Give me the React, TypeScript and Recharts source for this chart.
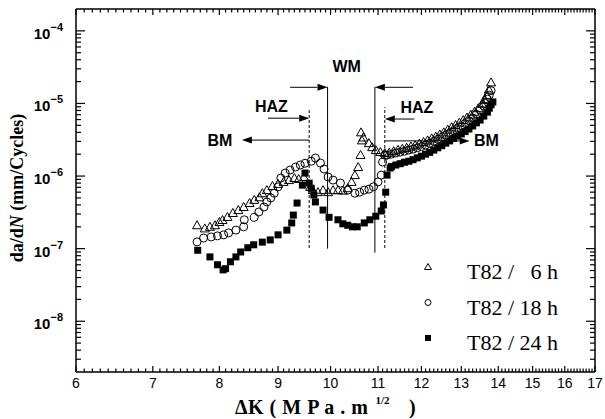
import React from 'react';
import { ScatterChart, Scatter, XAxis, YAxis, ReferenceLine, ReferenceDot } from 'recharts';

// ΔK (MPa·m^1/2) vs da/dN (mm/cycle)
const t82_6h: [number, number][] = [
  [7.65, 2.1e-7], [7.77, 1.9e-7], [7.85, 2.0e-7], [7.93, 2.1e-7], [8.0, 2.33e-7], [8.05, 2.48e-7],
  [8.13, 2.73e-7], [8.22, 3.1e-7], [8.31, 3.4e-7], [8.4, 3.75e-7], [8.5, 4.25e-7], [8.58, 4.7e-7],
  [8.67, 5.1e-7], [8.72, 5.8e-7], [8.8, 6.4e-7], [8.9, 7.3e-7], [9.0, 7.8e-7], [9.1, 8.3e-7],
  [9.2, 8.8e-7], [9.3, 9.4e-7], [9.38, 9.1e-7], [9.48, 9.7e-7], [9.6, 7.1e-7], [9.65, 6.4e-7],
  [9.75, 6.0e-7], [9.85, 6.4e-7], [9.95, 6.0e-7], [10.05, 6.4e-7], [10.15, 6.4e-7], [10.25, 6.3e-7],
  [10.35, 6.8e-7], [10.43, 8.3e-7], [10.5, 1.03e-6], [10.57, 1.33e-6], [10.62, 1.95e-6], [10.65, 3.1e-6],
  [10.63, 4.0e-6], [10.68, 3.4e-6], [10.8, 2.84e-6], [10.87, 2.5e-6], [10.95, 2.28e-6], [11.05, 2.14e-6],
  [11.15, 2.07e-6], [11.25, 2.1e-6], [11.35, 2.2e-6], [11.45, 2.3e-6], [11.55, 2.38e-6], [11.65, 2.45e-6],
  [11.75, 2.55e-6], [11.85, 2.65e-6], [11.95, 2.8e-6], [12.05, 2.95e-6], [12.15, 3.1e-6], [12.25, 3.3e-6],
  [12.35, 3.5e-6], [12.45, 3.75e-6], [12.55, 4.0e-6], [12.65, 4.35e-6], [12.75, 4.7e-6], [12.85, 5.05e-6],
  [12.95, 5.45e-6], [13.05, 5.9e-6], [13.15, 6.4e-6], [13.25, 7.0e-6], [13.35, 7.7e-6], [13.45, 8.6e-6],
  [13.55, 9.9e-6], [13.62, 1.12e-5], [13.68, 1.3e-5], [13.74, 1.55e-5], [13.8, 1.95e-5],
];

const t82_18h: [number, number][] = [
  [7.65, 1.24e-7], [7.75, 1.4e-7], [7.87, 1.45e-7], [7.97, 1.5e-7], [8.07, 1.55e-7], [8.15, 1.65e-7],
  [8.27, 1.8e-7], [8.4, 2.0e-7], [8.41, 2.5e-7], [8.58, 2.7e-7], [8.66, 3.2e-7], [8.75, 3.75e-7],
  [8.8, 4.4e-7], [8.87, 5.0e-7], [8.93, 5.8e-7], [9.0, 7.1e-7], [9.05, 9.4e-7], [9.13, 1.1e-6],
  [9.22, 1.21e-6], [9.32, 1.33e-6], [9.41, 1.42e-6], [9.5, 1.5e-6], [9.62, 1.6e-6], [9.7, 1.77e-6],
  [9.8, 1.51e-6], [9.87, 1.25e-6], [9.95, 9.7e-7], [10.05, 8.8e-7], [10.2, 8.0e-7], [10.35, 6.4e-7],
  [10.5, 5.8e-7], [10.6, 6.0e-7], [10.7, 6.4e-7], [10.8, 6.6e-7], [10.9, 7.1e-7], [11.0, 8.3e-7],
  [11.07, 1.03e-6], [11.1, 1.56e-6], [11.15, 1.94e-6], [11.2, 1.94e-6], [11.3, 2.0e-6], [11.4, 2.08e-6],
  [11.5, 2.14e-6], [11.6, 2.2e-6], [11.7, 2.28e-6], [11.8, 2.35e-6], [11.9, 2.45e-6], [12.0, 2.55e-6],
  [12.1, 2.67e-6], [12.2, 2.82e-6], [12.3, 3.0e-6], [12.4, 3.2e-6], [12.5, 3.42e-6], [12.6, 3.65e-6],
  [12.7, 3.9e-6], [12.8, 4.2e-6], [12.9, 4.55e-6], [13.0, 4.9e-6], [13.1, 5.3e-6], [13.2, 5.8e-6],
  [13.3, 6.3e-6], [13.4, 7.1e-6], [13.5, 8.1e-6], [13.6, 9.2e-6], [13.65, 1.0e-5], [13.7, 1.15e-5],
  [13.75, 1.3e-5], [13.8, 1.5e-5],
];

const t82_24h: [number, number][] = [
  [7.66, 9.5e-8], [7.85, 7.7e-8], [7.97, 6.0e-8], [8.06, 5.1e-8], [8.1, 5.3e-8], [8.18, 6.6e-8],
  [8.27, 7.7e-8], [8.35, 9.0e-8], [8.47, 1.03e-7], [8.57, 1.13e-7], [8.72, 1.23e-7], [8.86, 1.32e-7],
  [9.0, 1.55e-7], [9.16, 1.8e-7], [9.25, 2.26e-7], [9.28, 2.9e-7], [9.35, 4.25e-7], [9.5, 1.1e-6],
  [9.45, 7.5e-7], [9.58, 8.0e-7], [9.62, 6.8e-7], [9.67, 5.5e-7], [9.7, 4.4e-7], [9.85, 3.4e-7],
  [9.97, 2.7e-7], [10.15, 2.5e-7], [10.25, 2.2e-7], [10.35, 2.1e-7], [10.45, 2.0e-7], [10.55, 2.0e-7],
  [10.7, 2.26e-7], [10.82, 2.5e-7], [10.95, 2.8e-7], [11.07, 3.3e-7], [11.12, 4.0e-7], [11.17, 6.0e-7],
  [11.2, 1.03e-6], [11.27, 1.29e-6], [11.3, 1.35e-6], [11.4, 1.42e-6], [11.5, 1.48e-6], [11.6, 1.55e-6],
  [11.7, 1.6e-6], [11.8, 1.68e-6], [11.9, 1.78e-6], [12.0, 1.88e-6], [12.1, 2.0e-6], [12.2, 2.12e-6],
  [12.3, 2.28e-6], [12.4, 2.45e-6], [12.5, 2.62e-6], [12.6, 2.84e-6], [12.7, 3.05e-6], [12.8, 3.3e-6],
  [12.9, 3.55e-6], [13.0, 3.8e-6], [13.1, 4.1e-6], [13.2, 4.45e-6], [13.3, 4.9e-6], [13.4, 5.4e-6],
  [13.5, 5.9e-6], [13.6, 6.7e-6], [13.7, 7.6e-6], [13.75, 8.6e-6], [13.8, 9.6e-6], [13.85, 1.05e-5],
];

const xMajor = [6, 7, 8, 9, 10, 11, 12, 13, 14, 15, 16, 17];
const yMajor = [1e-8, 1e-7, 1e-6, 1e-5, 1e-4];
const xDomain = [6, 17];
const yDomain = [2e-9, 2e-4];
const legendLabels = ['T82 /   6 h', 'T82 / 18 h', 'T82 / 24 h'];

// zone boundaries: ΔK, lower and upper rate of the drawn line
const zoneLines = [
  { k: 9.58, lo: 1.02e-7, hi: 8.1e-6, dashed: true },
  { k: 9.94, lo: 1.0e-7, hi: 1.7e-5, dashed: false },
  { k: 10.93, lo: 8.8e-8, hi: 1.7e-5, dashed: false },
  { k: 11.15, lo: 1.02e-7, hi: 8.9e-6, dashed: true },
];
// arrows: from tail ΔK to head ΔK at a rate level
const zoneArrows = [
  { from: 9.22, to: 9.94, at: 1.67e-5 },
  { from: 11.8, to: 10.93, at: 1.67e-5 },
  { from: 8.82, to: 9.58, at: 6.27e-6 },
  { from: 9.58, to: 8.37, at: 3.13e-6 },
  { from: 11.83, to: 11.15, at: 6.1e-6 },
  { from: 11.15, to: 13.22, at: 3.05e-6 },
];
const zoneLabels = [
  { text: 'WM', k: 10.33, at: 3.2e-5 },
  { text: 'HAZ', k: 8.88, at: 9.2e-6 },
  { text: 'BM', k: 8.01, at: 3.13e-6 },
  { text: 'HAZ', k: 11.89, at: 8.9e-6 },
  { text: 'BM', k: 13.67, at: 3.13e-6 },
];

const toPoints = (rows: [number, number][]) => rows.map(([dk, rate]) => ({ dk, rate }));

const xMinor: number[] = [];
xMajor.slice(0, -1).forEach((m) => {
  for (let i = 1; i < 10; i++) xMinor.push(Math.round((m + i / 10) * 10) / 10);
});

const yMinor: number[] = [];
[1e-9, ...yMajor].forEach((d) => {
  for (let k = 2; k < 10; k++) {
    const v = d * k;
    if (v > 2.01e-9 && v < 1.99e-4) yMinor.push(v);
  }
});

const W = 605;
const H = 419;
const margin = { top: 8, right: 9, bottom: 46, left: 75 };
// plot box (the 1px axis bands sit between margin and plot)
const box = { left: margin.left + 1, right: W - margin.right - 1, top: margin.top + 1, bottom: H - margin.bottom - 1 };
const logPos = (v: number, d: number[], a: number, b: number) =>
  a + ((Math.log10(v) - Math.log10(d[0])) / (Math.log10(d[1]) - Math.log10(d[0]))) * (b - a);

const arial = 'Arial, "Liberation Sans", Helvetica, sans-serif';
const times = '"Times New Roman", "Liberation Serif", serif';

const LeftLabel = ({ x, y, payload }: any) => {
  const exp = Math.round(Math.log10(payload.value));
  return (
    <text x={x - 13} y={y + 8} textAnchor="end" fontFamily={arial} fontWeight="bold" fontSize={15} fill="#000">
      10
      <tspan dy={-8} fontSize={11}>{'\u2212' + Math.abs(exp)}</tspan>
    </text>
  );
};

const BottomLabel = ({ x, y, payload }: any) => (
  <text x={x} y={y + 16} textAnchor="middle" fontFamily={arial} fontSize={14} fill="#000">
    {payload.value}
  </text>
);

const Triangle = ({ cx, cy }: any) => (
  <polygon
    points={`${cx},${cy - 4.5} ${cx - 4.5},${cy + 3.5} ${cx + 4.5},${cy + 3.5}`}
    fill="none"
    stroke="#000"
    strokeWidth={1}
  />
);
const Ring = ({ cx, cy }: any) => <circle cx={cx} cy={cy} r={4} fill="none" stroke="#000" strokeWidth={1} />;
const Block = ({ cx, cy }: any) => <rect x={cx - 3.5} y={cy - 3.5} width={7} height={7} fill="#000" />;

const ArrowLine = (p: any) => {
  const { x1, y1, x2, y2 } = p;
  const dir = Math.sign(x2 - x1) || 1;
  const hl = 10;
  const hw = 3.5;
  return (
    <g>
      <line x1={x1} y1={y1} x2={x2 - dir * hl} y2={y2} stroke="#000" strokeWidth={1} />
      <polygon points={`${x2},${y2} ${x2 - dir * hl},${y2 - hw} ${x2 - dir * hl},${y2 + hw}`} fill="#000" />
    </g>
  );
};

// inward tick marks on all four sides of the frame
const FrameTicks = () => {
  const ys = [...yMajor.map((v) => [v, 9]), ...yMinor.map((v) => [v, 5])];
  const xs = [...xMajor.map((v) => [v, 6]), ...xMinor.map((v) => [v, 3.5])];
  return (
    <g stroke="#000" strokeWidth={1.2}>
      {ys.map(([v, len]) => {
        const y = logPos(v, yDomain, box.bottom, box.top);
        return (
          <g key={`y${v}`}>
            <line x1={box.left} y1={y} x2={box.left + len} y2={y} />
            <line x1={box.right - len} y1={y} x2={box.right} y2={y} />
          </g>
        );
      })}
      {xs.map(([v, len]) => {
        const x = logPos(v, xDomain, box.left, box.right);
        return (
          <g key={`x${v}`}>
            <line x1={x} y1={box.bottom} x2={x} y2={box.bottom - len} />
            <line x1={x} y1={box.top} x2={x} y2={box.top + len} />
          </g>
        );
      })}
    </g>
  );
};

const axisStroke = { stroke: '#000', strokeWidth: 1.5 };

export default function App() {
  return (
    <div style={{ position: 'absolute', left: 0, top: 0, width: W, height: H, background: '#fff' }}>
      <ScatterChart width={W} height={H} margin={margin}>
        <XAxis
          type="number"
          dataKey="dk"
          scale="log"
          domain={xDomain}
          allowDataOverflow
          ticks={xMajor}
          interval={0}
          height={1}
          tickSize={0}
          tickMargin={0}
          tickLine={false}
          axisLine={axisStroke}
          tick={BottomLabel}
        />
        <XAxis
          xAxisId="top"
          orientation="top"
          type="number"
          scale="log"
          domain={xDomain}
          allowDataOverflow
          height={1}
          tick={false}
          tickLine={false}
          axisLine={axisStroke}
        />
        <YAxis
          type="number"
          dataKey="rate"
          scale="log"
          domain={yDomain}
          allowDataOverflow
          ticks={yMajor}
          interval={0}
          width={1}
          tickSize={0}
          tickMargin={0}
          tickLine={false}
          axisLine={axisStroke}
          tick={LeftLabel}
        />
        <YAxis
          yAxisId="right"
          orientation="right"
          type="number"
          scale="log"
          domain={yDomain}
          allowDataOverflow
          width={1}
          tick={false}
          tickLine={false}
          axisLine={axisStroke}
        />
        <Scatter data={[]} xAxisId="top" yAxisId="right" isAnimationActive={false} />
        <Scatter data={toPoints(t82_6h)} shape={Triangle} isAnimationActive={false} />
        <Scatter data={toPoints(t82_18h)} shape={Ring} isAnimationActive={false} />
        <Scatter data={toPoints(t82_24h)} shape={Block} isAnimationActive={false} />
        {zoneLines.map((z, i) => (
          <ReferenceLine
            key={`zl${i}`}
            segment={[{ x: z.k, y: z.lo }, { x: z.k, y: z.hi }]}
            stroke="#000"
            strokeWidth={1}
            strokeDasharray={z.dashed ? '3 2' : undefined}
          />
        ))}
        {zoneArrows.map((a, i) => (
          <ReferenceLine
            key={`za${i}`}
            segment={[{ x: a.from, y: a.at }, { x: a.to, y: a.at }]}
            shape={ArrowLine}
          />
        ))}
        {zoneLabels.map((l, i) => (
          <ReferenceDot
            key={`zt${i}`}
            x={l.k}
            y={l.at}
            r={0}
            shape={(p: any) => (
              <text
                x={p.cx}
                y={p.cy}
                textAnchor="middle"
                dominantBaseline="central"
                fontFamily={arial}
                fontWeight="bold"
                fontSize={16}
                fill="#000"
              >
                {l.text}
              </text>
            )}
          />
        ))}
      </ScatterChart>
      <svg width={W} height={H} style={{ position: 'absolute', left: 0, top: 0, pointerEvents: 'none' }}>
        <FrameTicks />
        <text
          transform="translate(17,188) rotate(-90)"
          textAnchor="middle"
          dominantBaseline="central"
          fontFamily={times}
          fontWeight="bold"
          fontSize={18}
          fill="#000"
        >
          da/d<tspan fontStyle="italic">N</tspan> (mm/Cycles)
        </text>
        <text
          x={235}
          y={414}
          fontFamily={times}
          fontWeight="bold"
          fontSize={20}
          letterSpacing={0.5}
          fill="#000"
          style={{ whiteSpace: 'pre' }}
        >
          {'\u0394K ( M P a . m'}
          <tspan dx={7} dy={-10} fontSize={11} letterSpacing={0}>1/2</tspan>
          <tspan dx={14} dy={10}>{' )'}</tspan>
        </text>
        {legendLabels.map((lab, i) => {
          const cy = 267 + i * 35.5;
          return (
            <g key={lab}>
              {i === 0 && (
                <polygon points={`428,${cy - 3.5} ${424.5},${cy + 2.5} ${431.5},${cy + 2.5}`} fill="none" stroke="#000" strokeWidth={1} />
              )}
              {i === 1 && <circle cx={428} cy={cy} r={3} fill="none" stroke="#000" strokeWidth={1} />}
              {i === 2 && <rect x={425} y={cy - 3} width={6} height={6} fill="#000" />}
              <text x={467} y={cy + 12} fontFamily={times} fontSize={22} fill="#000" style={{ whiteSpace: 'pre' }}>
                {lab}
              </text>
            </g>
          );
        })}
      </svg>
    </div>
  );
}
